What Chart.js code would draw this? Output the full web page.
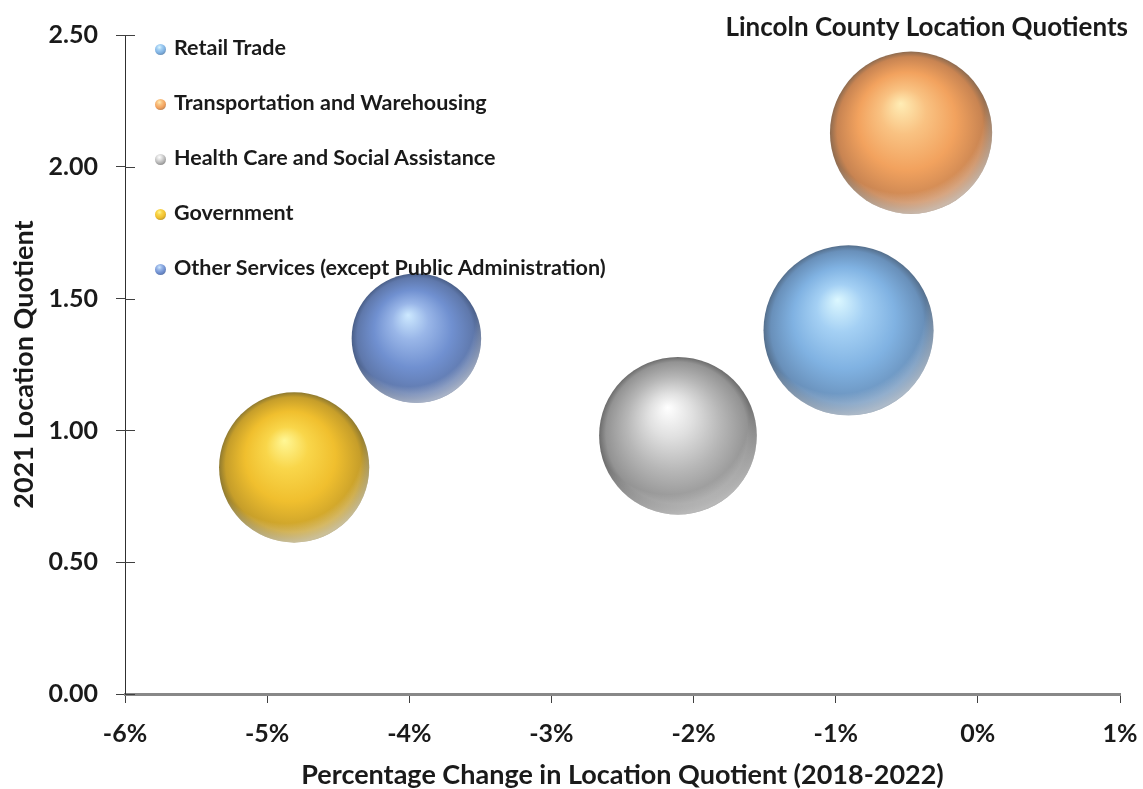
<!DOCTYPE html>
<html>
<head>
<meta charset="utf-8">
<script src="https://cdn.jsdelivr.net/npm/chart.js@4.4.1/dist/chart.umd.min.js"></script>
<style>
    html, body { margin: 0; padding: 0; background: #fff; }
    #contenedor { position: relative; width: 1143px; height: 789px; }
    #grafico { display: block; }
    #leyenda { position: absolute; left: 155px; top: 34px; font: bold 21.5px Lato, sans-serif; color: #1a1a1a; }
    .item { position: absolute; left: 0; white-space: nowrap; height: 26px; line-height: 26px; }
    .bola { display: inline-block; width: 11px; height: 11px; border-radius: 50%; vertical-align: 0px; margin-right: 8px; }
</style>
</head>
<body>
<div id="contenedor">
    <canvas id="grafico" width="1143" height="789"></canvas>
    <div id="leyenda"></div>
</div>
<script>
// Datos
const sectores = [
    "Retail Trade",
    "Transportation and Warehousing",
    "Health Care and Social Assistance",
    "Government",
    "Other Services (except Public Administration)"
];
const cambioLQ = [-0.91, -0.47, -2.11, -4.81, -3.95];   // % 2018-2022
const lq2021 = [1.38, 2.13, 0.98, 0.86, 1.35];
const tamano = [100, 91, 86, 78, 58];                  // tamaño relativo de burbuja
const ticksX = [-6, -5, -4, -3, -2, -1, 0, 1];
const ticksY = [0, 0.5, 1, 1.5, 2, 2.5];

// colores de cada esfera: luz, clara, media, oscura, borde
const colores = [
    ["#dcf8ff", "#a4d0f4", "#80b2e2", "#6990ba", "#556f8c"],
    ["#ffedb5", "#f9c282", "#f2a25e", "#c88452", "#8d6b50"],
    ["#ffffff", "#e0e0e0", "#b6b6b6", "#939393", "#6c6c6c"],
    ["#fff796", "#f9d64a", "#f0bf2e", "#c69e2a", "#8f7a30"],
    ["#cde9ff", "#99b6e8", "#7090d0", "#5f78ab", "#4a5f88"]
];

const fuente = "Lato, 'Open Sans', sans-serif";
const textoColor = "#1a1a1a";

function radio(chart, i) {
    const alto = chart.chartArea ? chart.chartArea.height : 659;
    const rMax = alto * 0.129;
    const maximo = Math.max(...tamano);
    return rMax * Math.sqrt(tamano[i] / maximo);
}

function esfera(ctx) {
    const i = ctx.datasetIndex;
    const c = colores[i];
    const chart = ctx.chart;
    if (ctx.type !== 'data' || !chart.chartArea || !ctx.raw) return c[2];
    const x = chart.scales.x.getPixelForValue(ctx.raw.x);
    const y = chart.scales.y.getPixelForValue(ctx.raw.y);
    const r = radio(chart, i);
    const g = chart.ctx.createRadialGradient(x - 0.13 * r, y - 0.36 * r, 0, x, y, r);
    g.addColorStop(0, c[0]);
    g.addColorStop(0.28, c[1]);
    g.addColorStop(0.6, c[2]);
    g.addColorStop(0.9, c[3]);
    g.addColorStop(1, c[4]);
    return g;
}

// brillo en el borde inferior de cada esfera
const brillo = {
    id: 'brillo',
    afterDatasetsDraw(chart) {
        const ctx = chart.ctx;
        chart.data.datasets.forEach((ds, i) => {
            const meta = chart.getDatasetMeta(i);
            meta.data.forEach(p => {
                const r = p.options.radius;
                ctx.save();
                ctx.beginPath();
                ctx.arc(p.x, p.y, r, 0, Math.PI * 2);
                ctx.clip();
                const cx = p.x - 0.12 * r, cy = p.y - 0.28 * r;
                const g = ctx.createRadialGradient(cx, cy, 0, cx, cy, r * 1.28);
                g.addColorStop(0, 'rgba(255,255,255,0)');
                g.addColorStop(0.8, 'rgba(255,255,255,0)');
                g.addColorStop(1, 'rgba(255,255,255,0.5)');
                ctx.fillStyle = g;
                ctx.fillRect(p.x - r, p.y - r, 2 * r, 2 * r);
                ctx.restore();
            });
        });
    }
};

// marcas de eje Y que cruzan el eje
const cruces = {
    id: 'cruces',
    afterDraw(chart) {
        const ctx = chart.ctx;
        const s = chart.scales.y;
        const left = chart.chartArea.left;
        ctx.save();
        ctx.strokeStyle = '#404040';
        ctx.lineWidth = 1;
        s.ticks.forEach(t => {
            const y = Math.round(s.getPixelForValue(t.value)) + 0.5;
            ctx.beginPath();
            ctx.moveTo(left, y);
            ctx.lineTo(left + 10, y);
            ctx.stroke();
        });
        ctx.restore();
    }
};

const datasets = sectores.map((nombre, i) => ({
    label: nombre,
    data: [{ x: cambioLQ[i], y: lq2021[i] }],
    backgroundColor: esfera,
    borderWidth: 0,
    radius: ctx => radio(ctx.chart, ctx.datasetIndex)
}));

const chart = new Chart(document.getElementById('grafico').getContext('2d'), {
    type: 'bubble',
    data: { datasets: datasets },
    plugins: [brillo, cruces],
    options: {
        responsive: false,
        animation: false,
        events: [],
        layout: { autoPadding: false, padding: { left: 0, right: 15, top: 0, bottom: 0 } },
        plugins: {
            legend: { display: false },
            tooltip: { enabled: false },
            title: {
                display: true,
                text: 'Lincoln County Location Quotients',
                align: 'end',
                color: textoColor,
                font: { family: fuente, size: 26, weight: 'bold' },
                padding: { top: 12, bottom: -8 }
            }
        },
        scales: {
            x: {
                type: 'linear',
                min: ticksX[0],
                max: ticksX[ticksX.length - 1],
                afterBuildTicks: s => { s.ticks = ticksX.map(v => ({ value: v })); },
                afterFit: s => { s.height = 95; s.paddingRight = 23; },
                ticks: {
                    color: textoColor,
                    padding: 16,
                    maxRotation: 0,
                    font: { family: fuente, size: 25, weight: 'bold' },
                    callback: v => v + '%'
                },
                grid: { drawOnChartArea: false, drawTicks: true, tickLength: 9, color: '#404040' },
                border: { display: true, color: '#888888', width: 3 },
                title: {
                    display: true,
                    text: 'Percentage Change in Location Quotient (2018-2022)',
                    color: textoColor,
                    font: { family: fuente, size: 27, weight: 'bold' },
                    padding: { top: 0, bottom: -2 }
                }
            },
            y: {
                type: 'linear',
                min: ticksY[0],
                max: ticksY[ticksY.length - 1],
                afterBuildTicks: s => { s.ticks = ticksY.map(v => ({ value: v })); },
                afterFit: s => { s.width = 125; },
                ticks: {
                    color: textoColor,
                    padding: 18,
                    font: { family: fuente, size: 25, weight: 'bold' },
                    callback: v => v.toFixed(2)
                },
                grid: { drawOnChartArea: false, drawTicks: true, tickLength: 9, color: '#404040' },
                border: { display: true, color: '#303030', width: 1 },
                title: {
                    display: true,
                    text: '2021 Location Quotient',
                    color: textoColor,
                    font: { family: fuente, size: 27, weight: 'bold' },
                    padding: { top: 8, bottom: 0 }
                }
            }
        }
    }
});

// leyenda dentro del area del grafico
const leyenda = document.getElementById('leyenda');
sectores.forEach((nombre, i) => {
    const c = colores[i];
    const item = document.createElement('div');
    item.className = 'item';
    item.style.top = (i * 55) + 'px';
    const bola = document.createElement('span');
    bola.className = 'bola';
    bola.style.background = `radial-gradient(circle at 40% 30%, ${c[0]} 0%, ${c[1]} 25%, ${c[2]} 55%, ${c[4]} 100%)`;
    item.appendChild(bola);
    item.appendChild(document.createTextNode(nombre));
    leyenda.appendChild(item);
});
</script>
</body>
</html>
